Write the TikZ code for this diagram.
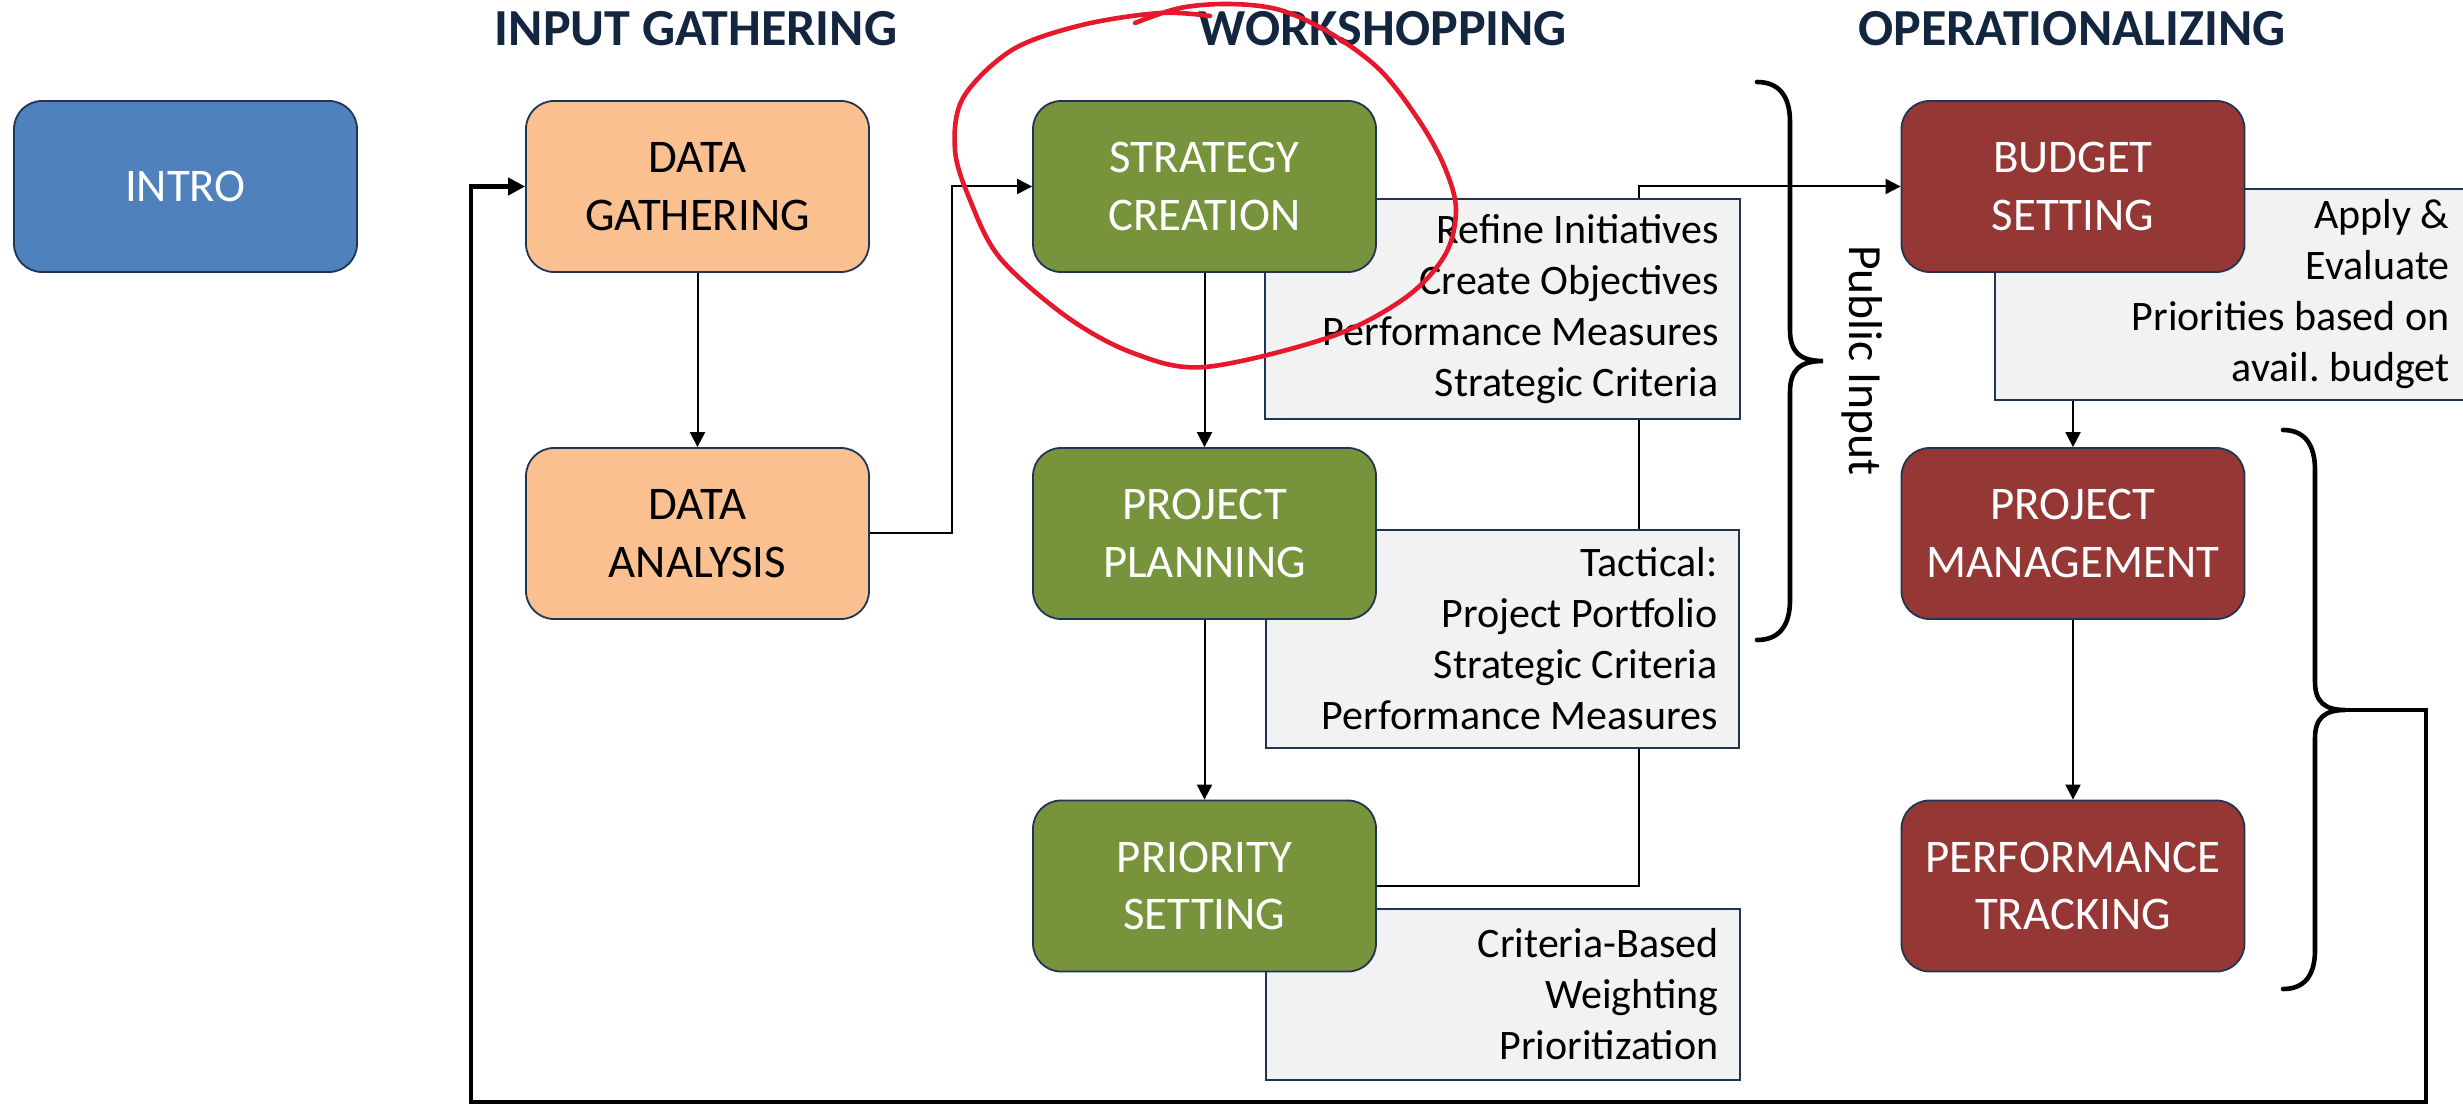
\documentclass[tikz,border=0pt]{standalone}
\usepackage{fontspec}
\setmainfont{Carlito}
\usetikzlibrary{arrows.meta,backgrounds}
\definecolor{navyb}{RGB}{32,52,84}
\definecolor{hdrc}{RGB}{18,38,64}
\definecolor{introc}{RGB}{79,129,189}
\definecolor{orangec}{RGB}{250,192,144}
\definecolor{greenc}{RGB}{119,147,60}
\definecolor{redc}{RGB}{149,55,53}
\definecolor{grayf}{RGB}{242,242,242}
\definecolor{penred}{RGB}{232,24,44}
\begin{document}
\begin{tikzpicture}[x=0.5pt,y=-0.5pt,
  box/.style={draw=navyb, line width=0.9pt, rounded corners=14pt, minimum width=171.5pt,
    minimum height=85.5pt, inner sep=0pt, align=center,
    font=\fontsize{23.4}{28.75}\selectfont, text=white},
  note/.style={draw=navyb, line width=0.9pt, fill=grayf, inner sep=0pt},
  notetext/.style={align=right, anchor=east, inner sep=0pt, font=\fontsize{21}{25.5}\selectfont},
  hdr/.style={inner sep=0pt, text=hdrc, font=\fontsize{26}{30}\selectfont\bfseries},
  conn/.style={line width=1pt, -{Triangle[length=7.5pt,width=7.5pt]}},
  fback/.style={line width=2.3pt, -{Triangle[length=8.5pt,width=8.5pt]}},
  bracepath/.style={line width=2.3pt, line cap=round},
  redpen/.style={draw=penred, line width=2.3pt, line cap=round, line join=round}
]
\useasboundingbox (0,0) rectangle (2463,1106);
\clip (0,0) rectangle (2463,1106);

% headers
\node[hdr] (h1) at (696,29) {INPUT GATHERING};
\node[hdr] (h2) at (1383,29) {WORKSHOPPING};
\node[hdr] (h3) at (2072,29) {OPERATIONALIZING};

% gray note boxes
\node[note, minimum width=237.5pt, minimum height=110pt] (g1) at (1502.5,309) {};
\node[note, minimum width=236.5pt, minimum height=109pt] (g2) at (1502.5,639) {};
\node[note, minimum width=237pt, minimum height=85.5pt] (g3) at (1503,994.5) {};
\node[note, minimum width=242.5pt, minimum height=105.5pt] (g4) at (2237.5,294.5) {};

\node[notetext] (g1t) at ([xshift=-11pt]g1.east) {Refine Initiatives\\Create Objectives\\Performance Measures\\Strategic Criteria};
\node[notetext] (g2t) at ([xshift=-11pt]g2.east) {Tactical:\\Project Portfolio\\Strategic Criteria\\Performance Measures};
\node[notetext] (g3t) at ([xshift=-11pt]g3.east) {Criteria-Based\\Weighting\\Prioritization};
\node[notetext] (g4t) at (2450,294.5) {Apply \&\\Evaluate\\Priorities based on\\avail.\ budget};

% main boxes
\node[box, fill=introc] (intro) at (185.5,186.5) {INTRO};
\node[box, fill=orangec, text=black] (dg) at (697.5,186.5) {DATA\\GATHERING};
\node[box, fill=orangec, text=black] (da) at (697.5,533.5) {DATA\\ANALYSIS};
\node[box, fill=greenc] (sc) at (1204.5,186.5) {STRATEGY\\CREATION};
\node[box, fill=greenc] (pp) at (1204.5,533.5) {PROJECT\\PLANNING};
\node[box, fill=greenc] (ps) at (1204.5,886) {PRIORITY\\SETTING};
\node[box, fill=redc] (bs) at (2073,186.5) {BUDGET\\SETTING};
\node[box, fill=redc] (pm) at (2073,533.5) {PROJECT\\MANAGEMENT};
\node[box, fill=redc] (pt) at (2073,886) {PERFORMANCE\\TRACKING};

% public input label
\node[inner sep=0pt, rotate=-90, font=\fontsize{23.8}{28}\selectfont] (pub) at (1862,360.5) {Public Input};

% braces
\draw[bracepath] (1757,82) .. controls (1778,82) and (1790,95) .. (1790,122) -- (1790,330)
  .. controls (1790,352) and (1800,361) .. (1823,361)
  .. controls (1800,361) and (1790,370) .. (1790,392) -- (1790,600)
  .. controls (1790,627) and (1778,640) .. (1757,640);
\draw[bracepath] (2283,430) .. controls (2304,430) and (2315,444) .. (2315,470) -- (2315,682)
  .. controls (2315,702) and (2325,710) .. (2345,710)
  .. controls (2325,710) and (2315,718) .. (2315,738) -- (2315,950)
  .. controls (2315,976) and (2304,989) .. (2283,989);
\coordinate (b2tip) at (2345,710);

% connectors (behind the boxes)
\begin{pgfonlayer}{background}
\fill[white] (0,0) rectangle (2463,1106);
\draw[conn] (dg.south) -- (da.north);
\draw[conn] (da.east) -- (952,533.5) -- (952,186.5) -- (sc.west);
\draw[conn] (sc.south) -- (pp.north);
\draw[conn] (pp.south) -- (ps.north);
\draw[conn] (ps.east) -- (1639,886) -- (1639,186.5) -- (bs.west);
\draw[conn] (bs.south) -- (pm.north);
\draw[conn] (pm.south) -- (pt.north);
\end{pgfonlayer}

% feedback loop
\draw[fback] (b2tip) -- (2426,710) -- (2426,1102) -- (471,1102) -- (471,186.5) -- (dg.west);

% red hand-drawn circle
\draw[redpen] plot[smooth, tension=0.55] coordinates {
  (1135,23) (1180,8) (1230,4) (1280,10) (1330,33) (1380,70) (1420,122) (1445,168)
  (1456,210) (1445,255) (1405,298) (1330,337) (1205,367) (1133,353) (1067,317)
  (1000,258) (970,200) (955,150) (963,98) (1012,50) (1082,25) (1160,13) (1210,16)};
\end{tikzpicture}
\end{document}
